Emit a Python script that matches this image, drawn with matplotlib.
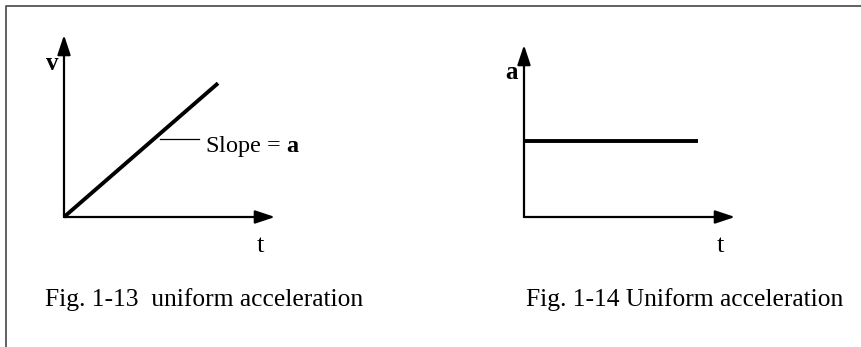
import matplotlib.pyplot as plt
from matplotlib.lines import Line2D

plt.rcParams['font.family'] = ['Liberation Serif', 'DejaVu Serif']
plt.rcParams['mathtext.fontset'] = 'custom'
plt.rcParams['mathtext.rm'] = 'Liberation Serif'
plt.rcParams['mathtext.bf'] = 'Liberation Serif:bold'

# data, axis length is 10 units on both charts
t_v = [0, 7.3]
v = [0, 7.35]
t_a = [0, 8.25]
a = [4.4, 4.4]

captions = ['Fig. 1-13  uniform acceleration', 'Fig. 1-14 Uniform acceleration']
W, H = 861, 347

fig = plt.figure(figsize=(W / 100, H / 100), dpi=100, facecolor='white')

# background axes in pixel coordinates for frame and captions
bg = fig.add_axes([0, 0, 1, 1])
bg.set_xlim(0, W)
bg.set_ylim(H, 0)
bg.axis('off')
bg.add_line(Line2D([6, 6, W + 5], [H + 5, 6, 6], color='#555555', lw=1.3))
bg.text(45, 306, captions[0], fontsize=18.4, ha='left', va='baseline')
bg.text(526, 306, captions[1], fontsize=18.4, ha='left', va='baseline')


def make_axes(x0, y0, x1, y1):
    ax = fig.add_axes([x0 / W, (H - y0) / H, (x1 - x0) / W, (y0 - y1) / H])
    ax.set_xlim(0, 10)
    ax.set_ylim(0, 10)
    ax.axis('off')
    arrow = dict(arrowstyle='-|>,head_length=0.6,head_width=0.2', lw=1.6,
                 color='black', mutation_scale=20, shrinkA=0, shrinkB=0)
    ax.annotate('', xy=(10, 0), xytext=(0, 0), arrowprops=arrow,
                annotation_clip=False)
    ax.annotate('', xy=(0, 10), xytext=(0, 0), arrowprops=arrow,
                annotation_clip=False)
    return ax


ax1 = make_axes(64, 217, 275, 35)
ax1.plot(t_v, v, color='black', lw=2.8, solid_capstyle='butt', clip_on=False)
ax1.plot([4.55, 6.4], [4.29, 4.29], color='black', lw=0.9, clip_on=False)
bg.text(205, 152, 'Slope = $\\mathbf{a}$', fontsize=17.5, ha='left', va='baseline')

ax2 = make_axes(524, 217, 735, 45)
ax2.plot(t_a, a, color='black', lw=2.8, solid_capstyle='butt', clip_on=False)

bg.text(52, 63, 'v', fontsize=18, fontweight='bold', ha='center', va='center')
bg.text(512, 72, 'a', fontsize=18, fontweight='bold', ha='center', va='center')
bg.text(260, 252, 't', fontsize=19, ha='center', va='baseline')
bg.text(720, 252, 't', fontsize=19, ha='center', va='baseline')

fig.savefig('out.png', dpi=100, facecolor='white')
